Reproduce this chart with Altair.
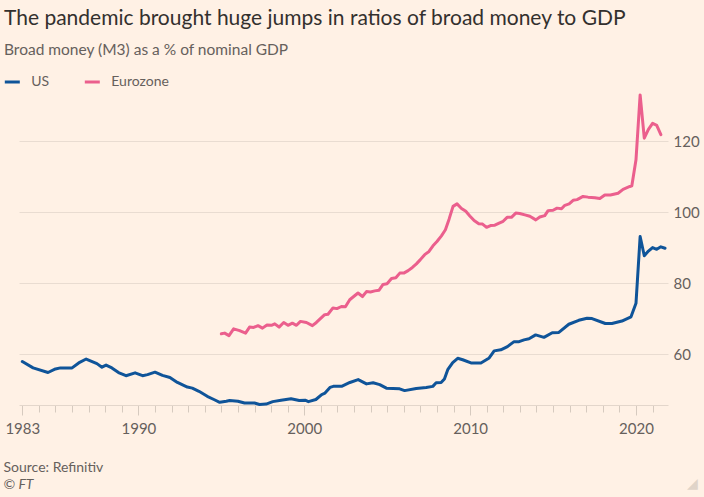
import altair as alt
import pandas as pd

# ---- data ----
us_year = [1983.0, 1983.65, 1984.55, 1985.0, 1985.3, 1986.0, 1986.4, 1986.85, 1987.5, 1987.8,
           1988.05, 1988.4, 1988.8, 1989.25, 1989.8, 1990.25, 1990.55, 1991.0, 1991.45, 1991.9,
           1992.35, 1992.95, 1993.25, 1993.65, 1994.15, 1994.55, 1994.9, 1995.3, 1995.5, 1996.0,
           1996.4, 1997.0, 1997.3, 1997.7, 1998.1, 1998.6, 1999.2, 1999.7, 2000.05, 2000.25,
           2000.7, 2001.05, 2001.25, 2001.55, 2001.75, 2002.25, 2002.75, 2003.25, 2003.75, 2004.15,
           2004.55, 2004.95, 2005.75, 2006.05, 2006.75, 2007.35, 2007.75, 2007.95, 2008.25, 2008.45,
           2008.65, 2008.95, 2009.25, 2009.55, 2010.05, 2010.65, 2011.15, 2011.45, 2011.85, 2012.25,
           2012.65, 2012.95, 2013.25, 2013.55, 2013.95, 2014.45, 2014.95, 2015.35, 2015.95, 2016.55,
           2017.05, 2017.35, 2018.15, 2018.55, 2019.15, 2019.7, 2020.0, 2020.25, 2020.5, 2020.75,
           2021.0, 2021.25, 2021.5, 2021.75]
us_val = [57.9, 56.1, 54.8, 55.8, 56.1, 56.1, 57.5, 58.6, 57.3, 56.3,
          56.9, 56.1, 54.8, 53.9, 54.7, 53.9, 54.2, 54.9, 54.0, 53.4,
          52.0, 50.7, 50.4, 49.5, 48.1, 47.2, 46.4, 46.7, 46.9, 46.7,
          46.2, 46.2, 45.8, 45.9, 46.6, 47.0, 47.4, 46.9, 47.0, 46.6,
          47.2, 48.6, 49.0, 50.6, 50.9, 50.9, 52.0, 52.8, 51.6, 51.9,
          51.4, 50.4, 50.2, 49.7, 50.3, 50.6, 50.9, 51.9, 52.0, 53.0,
          55.6, 57.6, 58.8, 58.4, 57.5, 57.5, 58.9, 60.9, 61.2, 62.1,
          63.5, 63.5, 64.0, 64.3, 65.4, 64.7, 66.0, 66.1, 68.4, 69.5,
          70.1, 70.0, 68.6, 68.6, 69.3, 70.5, 74.3, 93.1, 87.7, 89.0,
          90.0, 89.5, 90.2, 89.8]

ez_year = [1995.0, 1995.2, 1995.46, 1995.74, 1996.1, 1996.46, 1996.7, 1996.95, 1997.21, 1997.48,
           1997.75, 1998.02, 1998.22, 1998.48, 1998.76, 1999.02, 1999.28, 1999.53, 1999.77, 2000.13,
           2000.49, 2000.73, 2001.23, 2001.43, 2001.73, 2001.97, 2002.24, 2002.48, 2002.74, 2002.98,
           2003.24, 2003.51, 2003.75, 2003.99, 2004.25, 2004.51, 2004.75, 2004.99, 2005.26, 2005.52,
           2005.76, 2006.0, 2006.26, 2006.52, 2006.76, 2007.0, 2007.26, 2007.52, 2007.76, 2008.0,
           2008.27, 2008.51, 2008.73, 2008.97, 2009.21, 2009.48, 2009.74, 2009.98, 2010.24, 2010.52,
           2010.75, 2010.99, 2011.23, 2011.49, 2011.75, 2011.99, 2012.23, 2012.49, 2012.75, 2012.99,
           2013.3, 2013.6, 2013.96, 2014.2, 2014.5, 2014.7, 2015.0, 2015.24, 2015.51, 2015.71,
           2015.97, 2016.21, 2016.45, 2016.81, 2017.11, 2017.52, 2017.82, 2018.12, 2018.46, 2018.92,
           2019.22, 2019.63, 2019.75, 2020.0, 2020.25, 2020.5, 2020.75, 2021.0, 2021.25, 2021.5]
ez_val = [65.7, 65.9, 65.2, 67.1, 66.6, 65.9, 67.6, 67.5, 68.0, 67.3,
          68.2, 68.1, 68.5, 67.6, 68.9, 68.1, 68.7, 68.1, 69.2, 68.9,
          68.0, 68.9, 71.1, 71.2, 73.0, 72.8, 73.4, 73.3, 75.3, 76.2,
          77.2, 76.2, 77.6, 77.5, 77.8, 78.0, 79.6, 79.8, 81.3, 81.5,
          82.8, 82.8, 83.5, 84.4, 85.4, 86.6, 88.0, 88.9, 90.5, 91.7,
          93.3, 95.0, 98.0, 101.6, 102.3, 101.0, 100.2, 98.9, 97.6, 96.7,
          96.6, 95.7, 96.2, 96.3, 96.9, 97.4, 98.5, 98.5, 99.7, 99.6,
          99.2, 98.8, 97.8, 98.6, 99.0, 100.4, 100.5, 101.1, 100.9, 101.9,
          102.3, 103.3, 103.5, 104.4, 104.2, 104.0, 103.8, 104.8, 104.8, 105.3,
          106.4, 107.2, 107.4, 114.7, 133.0, 120.8, 123.3, 125.0, 124.4, 121.8]

series_names = ["US", "Eurozone"]
series_colors = ["#0f5499", "#eb5f8d"]
tick_years = list(range(1983, 2022))
y_ticks = [60, 80, 100, 120]

title = "The pandemic brought huge jumps in ratios of broad money to GDP"
subtitle = "Broad money (M3) as a % of nominal GDP"
source = "Source: Refinitiv"
credit = "© FT"

df = pd.concat([
    pd.DataFrame({"year": us_year, "value": us_val, "series": "US"}),
    pd.DataFrame({"year": ez_year, "value": ez_val, "series": "Eurozone"}),
])

FONT = "Lato"
DARK = "#33302e"
GREY = "#66605c"
PL, PT = 19, 94  # plot origin in page pixels

major = "datum.value == 1983 || datum.value % 10 == 0"

lines = alt.Chart(df).mark_line(strokeWidth=3, strokeJoin="round", strokeCap="round").encode(
    x=alt.X("year:Q",
            scale=alt.Scale(domain=[1982.8, 2021.93], nice=False, zero=False),
            axis=alt.Axis(title=None, values=tick_years, grid=False,
                          labelExpr=f"({major}) ? toString(datum.value) : ''",
                          labelFlush=False, labelOverlap=False,
                          tickSize=alt.condition(major, alt.value(10), alt.value(7)),
                          tickColor="#d6cabf", domainColor="#e3d6cb",
                          labelFont=FONT, labelFontSize=15, labelColor=GREY,
                          labelPadding=6)),
    y=alt.Y("value:Q",
            scale=alt.Scale(domain=[45.65, 133.25], nice=False, zero=False),
            axis=alt.Axis(title=None, orient="right", values=y_ticks, ticks=False, tickSize=0,
                          domain=False, gridColor="#e9dcd1", labelPadding=5,
                          labelFont=FONT, labelFontSize=15, labelColor=GREY)),
    color=alt.Color("series:N",
                    scale=alt.Scale(domain=series_names, range=series_colors),
                    legend=alt.Legend(title=None, orient="none", legendX=-15.7, legendY=-21,
                                      direction="horizontal", symbolType="stroke",
                                      symbolStrokeWidth=3, symbolSize=225, labelFont=FONT,
                                      labelFontSize=14, labelColor=GREY, labelOffset=10,
                                      columnPadding=29, padding=0)),
)


def text_layer(txt, x, y, size, color, style="normal"):
    return alt.Chart(pd.DataFrame({"t": [txt]})).mark_text(
        align="left", baseline="alphabetic", font=FONT, fontSize=size, color=color,
        fontStyle=style,
    ).encode(text="t:N", x=alt.value(x - PL), y=alt.value(y - PT))


chart = alt.layer(
    lines,
    text_layer(title, 4, 25, 21, DARK),
    text_layer(subtitle, 4, 55, 15.5, GREY),
    text_layer(source, 3.5, 472, 14, GREY),
    text_layer(credit, 3.5, 489, 14, GREY, "italic"),
    text_layer("◢", 687, 488, 14, "#e0d4c9"),
).properties(
    width=649, height=311,
    autosize=alt.AutoSizeParams(type="none"),
    padding={"left": PL, "top": PT, "right": 704 - PL - 649, "bottom": 497 - PT - 311},
    background="#fff1e5",
).configure_view(stroke=None)

chart.save("out.html", embed_options={"renderer": "svg", "actions": False})
